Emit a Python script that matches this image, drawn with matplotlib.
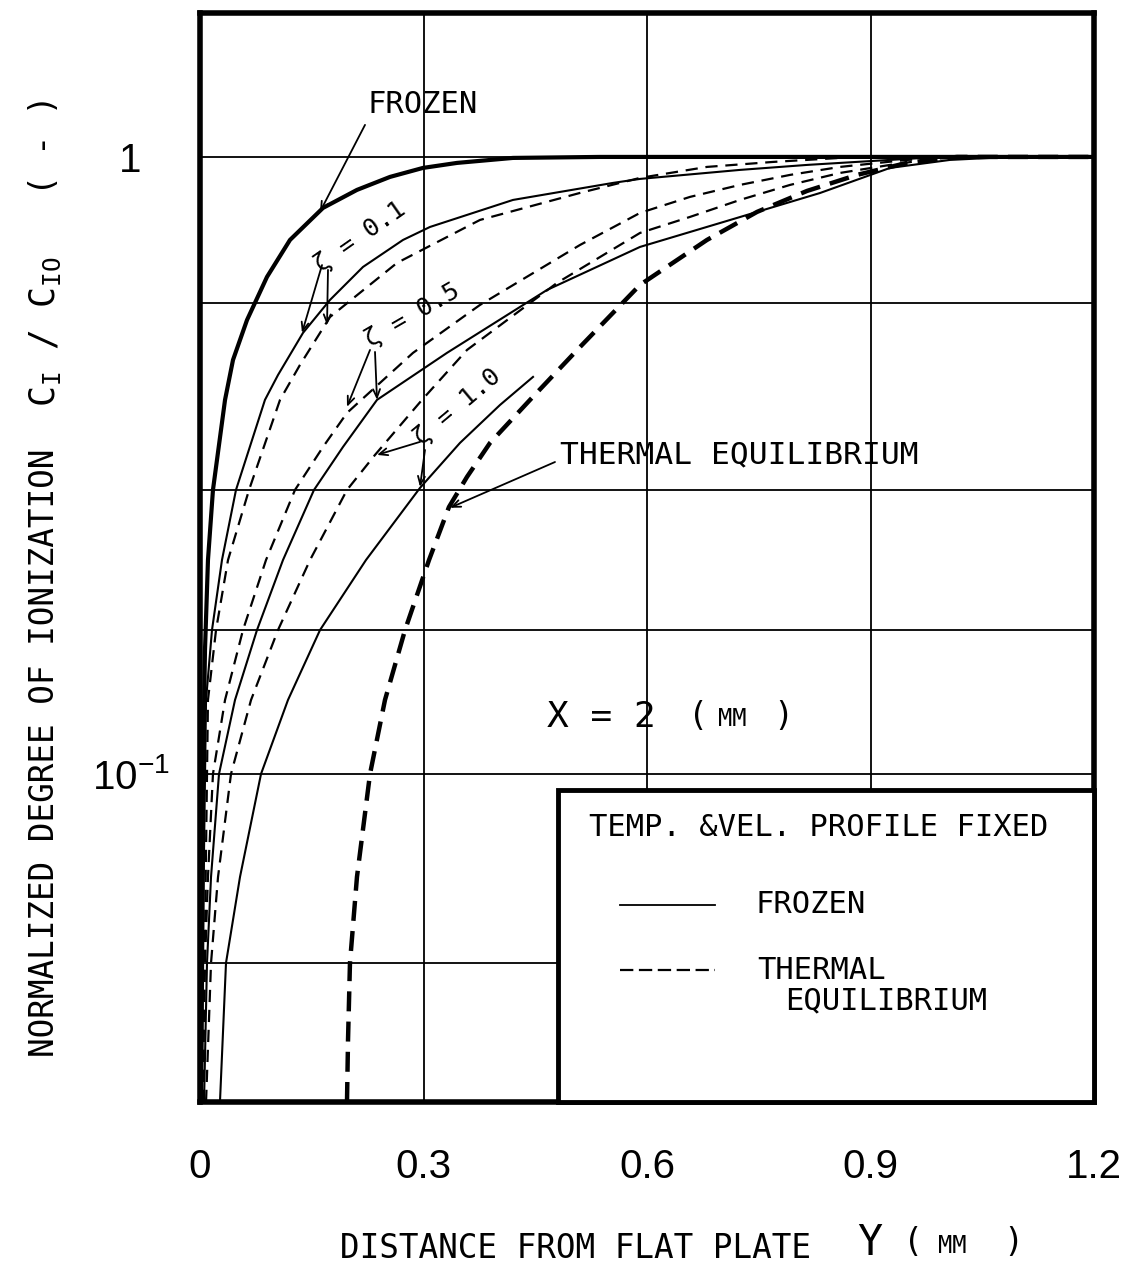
import matplotlib.pyplot as plt
from matplotlib.patches import Rectangle
from matplotlib.ticker import NullLocator

# ionization profiles at X = 2 mm
# y_* : distance from flat plate Y (mm), c_* : C_I / C_I0
y_frozen = [0.0013, 0.0027, 0.0040, 0.0067, 0.0107, 0.0174, 0.0336, 0.0443, 0.0631, 0.0899,
            0.1208, 0.1651, 0.2107, 0.2550, 0.2993, 0.3450, 0.4201, 0.537, 1.2]
c_frozen = [0.0294, 0.0625, 0.1000, 0.1589, 0.2222, 0.2886, 0.4039, 0.4688, 0.5441, 0.6390,
            0.7336, 0.8267, 0.8842, 0.9281, 0.9598, 0.9779, 0.9963, 1.0, 1.0]

# zeta = 0.1
y_z01_f = [0.0027, 0.0054, 0.0081, 0.0161, 0.0295, 0.0483, 0.0872, 0.1047, 0.1383, 0.1745, 0.2188,
           0.2725, 0.3087, 0.4201, 0.5544, 0.5906, 0.7248, 0.8148, 0.9034, 0.9933, 1.2]
c_z01_f = [0.0294, 0.0753, 0.1318, 0.1711, 0.2222, 0.2886, 0.4039, 0.4432, 0.5187, 0.5865, 0.6633,
           0.7336, 0.7700, 0.8517, 0.9076, 0.9212, 0.9527, 0.9706, 0.9852, 1.0, 1.0]
y_z01_e = [0.0040, 0.0081, 0.0107, 0.0215, 0.0376, 0.0658, 0.1074, 0.1342, 0.1745, 0.2644, 0.3758,
           0.5101, 0.5906, 0.6805, 0.7691, 0.8591, 0.9396, 1.2]
c_z01_e = [0.0294, 0.0753, 0.1318, 0.1711, 0.2222, 0.2886, 0.4039, 0.4602, 0.5503, 0.6733, 0.7904,
           0.8743, 0.9247, 0.9634, 0.9815, 0.9963, 1.0, 1.0]

# zeta = 0.5
y_z05_f = [0.0054, 0.0094, 0.0148, 0.0255, 0.0470, 0.0765, 0.1114, 0.1530, 0.1919, 0.2376, 0.3315,
           0.4658, 0.5906, 0.7208, 0.8322, 0.9262, 1.0067, 1.0873, 1.2]
c_z05_f = [0.0294, 0.0494, 0.0681, 0.1000, 0.1318, 0.1711, 0.2222, 0.2886, 0.3388, 0.4039, 0.4813,
           0.6087, 0.7147, 0.7964, 0.8740, 0.9598, 0.9889, 1.0, 1.0]
y_z05_e = [0.0027, 0.0067, 0.0107, 0.0174, 0.0336, 0.0577, 0.0886, 0.1275, 0.1651, 0.1973, 0.2859,
           0.3758, 0.5101, 0.5906, 0.6577, 0.7248, 0.7920, 0.8591, 0.9490, 1.0376, 1.2]
c_z05_e = [0.0294, 0.0494, 0.0681, 0.1000, 0.1318, 0.1711, 0.2222, 0.2886, 0.3388, 0.3847, 0.4813,
           0.5756, 0.7200, 0.8114, 0.8614, 0.9008, 0.9351, 0.9634, 0.9889, 1.0, 1.0]

# zeta = 1.0
y_z10_f = [0.0268, 0.0349, 0.0537, 0.0819, 0.1181, 0.1611, 0.2228, 0.2953, 0.3490, 0.4027, 0.4470]
c_z10_f = [0.0294, 0.0494, 0.0681, 0.1000, 0.1318, 0.1711, 0.2222, 0.2908, 0.3440, 0.3963, 0.4400]
y_z10_e = [0.0081, 0.0148, 0.0242, 0.0416, 0.0685, 0.1047, 0.1477, 0.1973, 0.2349, 0.2980, 0.3584,
           0.4792, 0.5906, 0.6577, 0.7248, 0.7920, 0.8591, 0.9262, 0.9933, 1.0738, 1.2]
c_z10_e = [0.0294, 0.0494, 0.0681, 0.1000, 0.1318, 0.1711, 0.2222, 0.2886, 0.3289, 0.4039, 0.4866,
           0.6249, 0.7530, 0.7994, 0.8517, 0.9008, 0.9420, 0.9706, 0.9963, 1.0, 1.0]

# thermal equilibrium limit
y_equil = [0.1973, 0.1987, 0.2013, 0.2107, 0.2282, 0.2483, 0.2752, 0.3074, 0.3342, 0.3584, 0.3893,
           0.4430, 0.5101, 0.5906, 0.6805, 0.7477, 0.8148, 0.8819, 0.9490, 1.0161, 1.2]
c_equil = [0.0294, 0.0371, 0.0494, 0.0681, 0.1000, 0.1318, 0.1711, 0.2222, 0.2708, 0.3030, 0.3440,
           0.4039, 0.4920, 0.6203, 0.7336, 0.8145, 0.8808, 0.9351, 0.9779, 1.0, 1.0]

x_ticks = [0, 0.3, 0.6, 0.9, 1.2]
x_ticklabels = ['0', '0.3', '0.6', '0.9', '1.2']
y_ticks = [1, 0.1]
y_ticklabels = ['1', r'$\mathregular{10^{-1}}$']
grid_y = [0.3, 0.6, 0.9]
grid_c = [1.0, 0.58, 0.289, 0.171, 0.1, 0.0494]

NARROW = 'Liberation Sans'
plt.rcParams['font.family'] = 'DejaVu Sans Mono'

W, H = 1132, 1269
fig = plt.figure(figsize=(W / 100, H / 100), dpi=100)
ax = fig.add_axes([200 / W, 1 - 1102 / H, 894 / W, 1089 / H])
ax.set_yscale('log')
ax.set_xlim(0, 1.2)
ax.set_ylim(0.0294, 1.711)

for s in ax.spines.values():
    s.set_linewidth(4)

for g in grid_y:
    ax.axvline(g, color='k', lw=1.3, zorder=1)
for g in grid_c:
    ax.axhline(g, color='k', lw=1.3, zorder=1)

thin_dash = (0, (5.5, 3.5))
ax.plot(y_frozen, c_frozen, color='k', lw=3, zorder=2)
ax.plot(y_z01_f, c_z01_f, color='k', lw=1.5, zorder=2)
ax.plot(y_z01_e, c_z01_e, color='k', lw=1.6, ls=thin_dash, zorder=2)
ax.plot(y_z05_f, c_z05_f, color='k', lw=1.5, zorder=2)
ax.plot(y_z05_e, c_z05_e, color='k', lw=1.6, ls=thin_dash, zorder=2)
ax.plot(y_z10_f, c_z10_f, color='k', lw=1.5, zorder=2)
ax.plot(y_z10_e, c_z10_e, color='k', lw=1.6, ls=thin_dash, zorder=2)
ax.plot(y_equil, c_equil, color='k', lw=3.2, ls=(0, (4.5, 2.3)), zorder=2)

# ticks
ax.set_xticks(x_ticks)
ax.set_xticklabels(x_ticklabels, family=NARROW, fontsize=29)
ax.set_yticks(y_ticks)
ax.set_yticklabels(y_ticklabels, family=NARROW, fontsize=29, ha='center')
ax.yaxis.set_minor_locator(NullLocator())
ax.tick_params(axis='x', length=0, pad=33)
ax.tick_params(axis='y', length=0, pad=50)

# annotations
arrow = dict(arrowstyle='->, head_length=0.6, head_width=0.25', color='k', lw=1.3, shrinkA=0, shrinkB=0)
ax.text(0.2255, 1.214, 'FROZEN', fontsize=22, va='center', ha='left')
ax.annotate('', xy=(0.161, 0.8145), xytext=(0.2215, 1.127), arrowprops=arrow)

ax.text(0.2148, 0.742, 'ζ = 0.1', fontsize=18, rotation=35, ha='center', va='center')
ax.annotate('', xy=(0.1369, 0.5187), xytext=(0.1638, 0.668), arrowprops=arrow)
ax.annotate('', xy=(0.1705, 0.534), xytext=(0.1718, 0.656), arrowprops=arrow)

ax.text(0.2846, 0.5544, 'ζ = 0.5', fontsize=18, rotation=30, ha='center', va='center')
ax.annotate('', xy=(0.1973, 0.3935), xytext=(0.2282, 0.4866), arrowprops=arrow)
ax.annotate('', xy=(0.2376, 0.4039), xytext=(0.2349, 0.483), arrowprops=arrow)

ax.text(0.345, 0.3935, 'ζ = 1.0', fontsize=18, rotation=40, ha='center', va='center')
ax.annotate('', xy=(0.2376, 0.3289), xytext=(0.2953, 0.3453), arrowprops=arrow)
ax.annotate('', xy=(0.2953, 0.2919), xytext=(0.302, 0.335), arrowprops=arrow)

ax.text(0.4832, 0.3289, 'THERMAL EQUILIBRIUM', fontsize=22.5, va='center', ha='left')
ax.annotate('', xy=(0.3356, 0.2700), xytext=(0.4765, 0.3203), arrowprops=arrow)

# legend box
ax.add_patch(Rectangle((358 / 894, 0), 536 / 894, 312 / 1089, transform=ax.transAxes,
                       facecolor='white', edgecolor='k', lw=3.5, zorder=3, clip_on=False))
ax.text(0.692, 0.2525, 'TEMP. &VEL. PROFILE FIXED', transform=ax.transAxes,
        fontsize=22, ha='center', va='center', zorder=4)
ax.plot([0.470, 0.576], [0.181, 0.181], transform=ax.transAxes, color='k', lw=1.3, zorder=4)
ax.text(0.621, 0.181, 'FROZEN', transform=ax.transAxes, fontsize=22, va='center', zorder=4)
ax.plot([0.470, 0.576], [0.121, 0.121], transform=ax.transAxes, color='k', lw=1.6,
        ls=(0, (6, 2.5)), zorder=4)
ax.text(0.623, 0.121, 'THERMAL', transform=ax.transAxes, fontsize=22, va='center', zorder=4)
ax.text(0.654, 0.093, 'EQUILIBRIUM', transform=ax.transAxes, fontsize=22, va='center', zorder=4)

# X = 2 (MM)
fig.text(547 / W, 1 - 717 / H, 'X = 2', fontsize=26, va='center')
fig.text(688 / W, 1 - 717 / H, '(', fontsize=24, va='center')
fig.text(718 / W, 1 - 719 / H, 'MM', fontsize=17, va='center')
fig.text(773 / W, 1 - 717 / H, ')', fontsize=24, va='center')

# axis titles
fig.text(340 / W, 1 - 1248 / H, 'DISTANCE FROM FLAT PLATE', fontsize=23.5, va='center')
fig.text(857 / W, 1 - 1243 / H, 'Y', fontsize=30, va='center')
fig.text(903 / W, 1 - 1243 / H, '(', fontsize=24, va='center')
fig.text(938 / W, 1 - 1246 / H, 'MM', fontsize=17, va='center')
fig.text(1003 / W, 1 - 1243 / H, ')', fontsize=24, va='center')

fig.text(45 / W, 1 - 753 / H, 'NORMALIZED DEGREE OF IONIZATION', fontsize=23.5,
         rotation=90, ha='center', va='center')
fig.text(45 / W, 1 - 332 / H, r'C$\mathregular{_I}$ / C$\mathregular{_{IO}}$', fontsize=25,
         rotation=90, ha='center', va='center')
fig.text(45 / W, 1 - 145 / H, '( - )', fontsize=24, rotation=90, ha='center', va='center')

fig.savefig('out.png', dpi=100)
